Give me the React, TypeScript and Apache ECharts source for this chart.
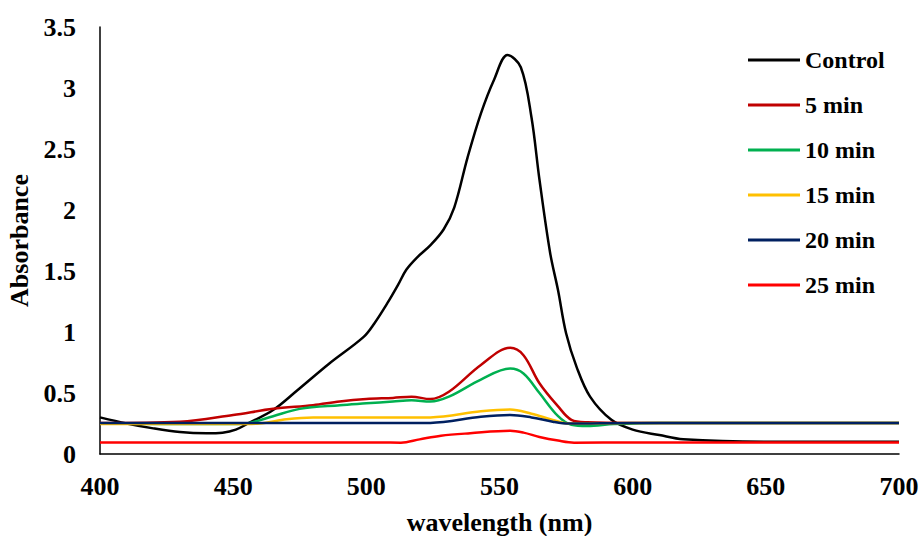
import React, { useEffect, useRef } from "react";
import * as echarts from "echarts";

const seriesNames = ["Control", "5 min", "10 min", "15 min", "20 min", "25 min"];
const seriesColors = ["#000000", "#C00000", "#00B050", "#FFC000", "#002060", "#FF0000"];

const controlX = [400, 410, 420, 430, 440, 446, 451, 456, 465, 474, 486, 499, 503, 508, 512, 515, 519, 524, 529, 533, 538, 543, 548, 553, 558, 562, 565, 569, 572, 575, 579, 584, 592, 600, 610, 619, 650, 700];
const controlY = [0.30, 0.25, 0.21, 0.18, 0.17, 0.175, 0.20, 0.255, 0.36, 0.52, 0.74, 0.96, 1.07, 1.24, 1.39, 1.51, 1.61, 1.71, 1.84, 2.02, 2.43, 2.79, 3.07, 3.27, 3.17, 2.76, 2.25, 1.65, 1.34, 0.99, 0.71, 0.47, 0.28, 0.20, 0.155, 0.12, 0.10, 0.10];

const min5X = [400, 430, 450, 465, 480, 490, 500, 510, 517, 524, 531, 543, 554, 559, 565, 572, 577, 583, 600, 700];
const min5Y = [0.255, 0.265, 0.32, 0.37, 0.40, 0.43, 0.45, 0.46, 0.47, 0.45, 0.51, 0.73, 0.87, 0.81, 0.58, 0.39, 0.28, 0.26, 0.255, 0.255];

const min10X = [400, 440, 450, 456, 465, 475, 490, 500, 510, 517, 524, 531, 543, 554, 559, 565, 572, 577, 583, 593, 610, 700];
const min10Y = [0.25, 0.245, 0.245, 0.255, 0.31, 0.37, 0.40, 0.415, 0.43, 0.44, 0.43, 0.47, 0.61, 0.70, 0.66, 0.50, 0.31, 0.24, 0.23, 0.245, 0.255, 0.255];

const min15X = [400, 450, 460, 470, 480, 500, 524, 543, 554, 562, 570, 576, 600, 700];
const min15Y = [0.245, 0.245, 0.25, 0.285, 0.30, 0.30, 0.30, 0.35, 0.365, 0.33, 0.28, 0.25, 0.255, 0.255];

const min20X = [400, 450, 500, 524, 543, 554, 562, 570, 576, 600, 700];
const min20Y = [0.255, 0.255, 0.255, 0.255, 0.305, 0.32, 0.30, 0.265, 0.25, 0.255, 0.255];

const min25X = [400, 450, 505, 513, 520, 528, 539, 554, 559, 565, 572, 578, 600, 700];
const min25Y = [0.095, 0.095, 0.095, 0.093, 0.12, 0.15, 0.17, 0.19, 0.175, 0.14, 0.11, 0.093, 0.095, 0.095];

const allX = [controlX, min5X, min10X, min15X, min20X, min25X];
const allY = [controlY, min5Y, min10Y, min15Y, min20Y, min25Y];

const FONT = "'Liberation Serif', 'Times New Roman', serif";

export default function App() {
  const ref = useRef<HTMLDivElement>(null);
  useEffect(() => {
    if (!ref.current) return;
    const chart = echarts.init(ref.current, null, { renderer: "svg" });
    chart.setOption({
      animation: false,
      textStyle: { fontFamily: FONT },
      grid: { left: 100, right: 22, top: 27, bottom: 82, containLabel: false, outerBoundsMode: "none" },
      legend: {
        orient: "vertical",
        left: 748,
        top: 48,
        padding: 0,
        icon: "rect",
        itemWidth: 52,
        itemHeight: 3,
        itemGap: 21,
        data: seriesNames,
        textStyle: { fontFamily: FONT, fontWeight: "bold", fontSize: 24, color: "#000" },
      },
      xAxis: {
        type: "value",
        min: 400,
        max: 700,
        interval: 50,
        name: "wavelength (nm)",
        nameLocation: "middle",
        nameGap: 55,
        nameTextStyle: { fontFamily: FONT, fontWeight: "bold", fontSize: 26, color: "#000" },
        axisLine: { show: true, lineStyle: { color: "#000", width: 1.5 } },
        axisTick: { show: false },
        splitLine: { show: false },
        axisLabel: { fontFamily: FONT, fontWeight: "bold", fontSize: 26, color: "#000", margin: 19 },
      },
      yAxis: {
        type: "value",
        min: 0,
        max: 3.5,
        interval: 0.5,
        name: "Absorbance",
        nameLocation: "middle",
        nameGap: 65,
        nameTextStyle: { fontFamily: FONT, fontWeight: "bold", fontSize: 26, color: "#000" },
        axisLine: { show: true, lineStyle: { color: "#000", width: 1.5 } },
        axisTick: { show: false },
        splitLine: { show: false },
        axisLabel: { fontFamily: FONT, fontWeight: "bold", fontSize: 26, color: "#000", margin: 24 },
      },
      series: seriesNames.map((name, i) => ({
        name,
        type: "line",
        smooth: 0.35,
        symbol: "none",
        color: seriesColors[i],
        itemStyle: { color: seriesColors[i] },
        lineStyle: { color: seriesColors[i], width: 2.5 },
        data: allX[i].map((x, j) => [x, allY[i][j]]),
        z: 2 + i,
      })),
    });
    return () => chart.dispose();
  }, []);
  return <div ref={ref} style={{ width: 921, height: 536, position: "absolute", left: 0, top: 0 }} />;
}
